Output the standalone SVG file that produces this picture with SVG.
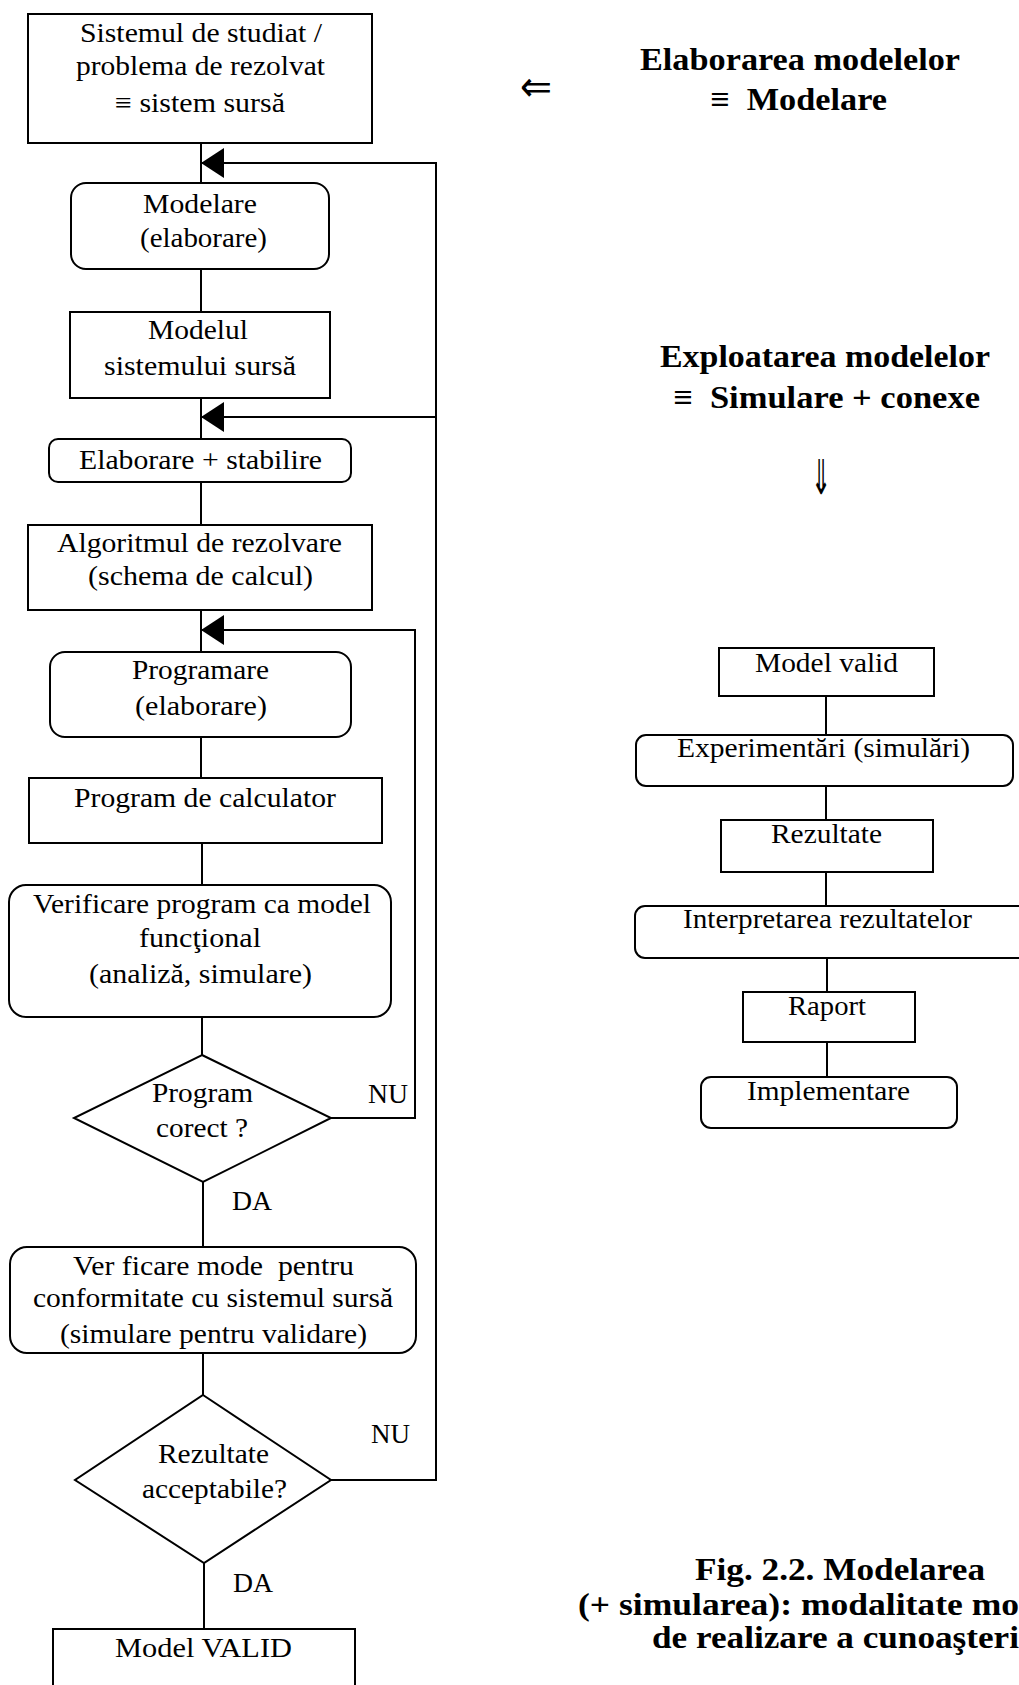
<svg xmlns="http://www.w3.org/2000/svg" width="1019" height="1685" viewBox="0 0 1019 1685">
  <style>
    .box { fill: #fff; stroke: #000; stroke-width: 2; }
    .wire { fill: none; stroke: #000; stroke-width: 2; }
    .t { font-family: "Liberation Serif", "Times New Roman", serif; font-size: 28px; fill: #000; }
    .h { font-family: "Liberation Serif", "Times New Roman", serif; font-size: 32px; font-weight: bold; fill: #000; }
    .sym { font-family: "DejaVu Sans", "Liberation Serif", serif; fill: #000; }
  </style>
  <defs>
    <marker id="head" markerUnits="userSpaceOnUse" markerWidth="23" markerHeight="30" viewBox="0 0 23 30" refX="23" refY="15" orient="auto">
      <path d="M0,0 L23,15 L0,30 z" fill="#000"/>
    </marker>
  </defs>
  <rect width="1019" height="1685" fill="#fff"/>

  <!-- connectors -->
  <g id="connectors">
    <path class="wire" d="M201,143 V183"/>
    <path class="wire" d="M201,269 V312"/>
    <path class="wire" d="M201,398 V439"/>
    <path class="wire" d="M201,482 V525"/>
    <path class="wire" d="M201,610 V652"/>
    <path class="wire" d="M201,737 V778"/>
    <path class="wire" d="M202,843 V885"/>
    <path class="wire" d="M202,1017 V1055"/>
    <path class="wire" d="M203,1182 V1247"/>
    <path class="wire" d="M203,1353 V1395"/>
    <path class="wire" d="M204,1563 V1629"/>
    <!-- return paths -->
    <path class="wire" d="M331,1480 H436 V163 H201" marker-end="url(#head)"/>
    <path class="wire" d="M436,417 H201" marker-end="url(#head)"/>
    <path class="wire" d="M331,1118 H415 V630 H201" marker-end="url(#head)"/>
    <!-- right column -->
    <path class="wire" d="M826,696 V735"/>
    <path class="wire" d="M826,786 V820"/>
    <path class="wire" d="M826,872 V906"/>
    <path class="wire" d="M827,958 V992"/>
    <path class="wire" d="M827,1042 V1077"/>
  </g>

  <!-- left column -->
  <g id="sistem-sursa">
    <rect class="box" x="28" y="14" width="344" height="129"/>
    <text class="t" x="80" y="42" textLength="242" lengthAdjust="spacingAndGlyphs">Sistemul de studiat /</text>
    <text class="t" x="76" y="75" textLength="249" lengthAdjust="spacingAndGlyphs">problema de rezolvat</text>
    <text class="t" x="115" y="112" textLength="170" lengthAdjust="spacingAndGlyphs">≡ sistem sursă</text>
  </g>
  <g id="modelare">
    <rect class="box" x="71" y="183" width="258" height="86" rx="15"/>
    <text class="t" x="143" y="213" textLength="114" lengthAdjust="spacingAndGlyphs">Modelare</text>
    <text class="t" x="140" y="247" textLength="127" lengthAdjust="spacingAndGlyphs">(elaborare)</text>
  </g>
  <g id="modelul">
    <rect class="box" x="70" y="312" width="260" height="86"/>
    <text class="t" x="148" y="339" textLength="100" lengthAdjust="spacingAndGlyphs">Modelul</text>
    <text class="t" x="104" y="375" textLength="192" lengthAdjust="spacingAndGlyphs">sistemului sursă</text>
  </g>
  <g id="elaborare-stabilire">
    <rect class="box" x="49" y="439" width="302" height="43" rx="9"/>
    <text class="t" x="79" y="469" textLength="243" lengthAdjust="spacingAndGlyphs">Elaborare + stabilire</text>
  </g>
  <g id="algoritm">
    <rect class="box" x="28" y="525" width="344" height="85"/>
    <text class="t" x="57" y="552" textLength="285" lengthAdjust="spacingAndGlyphs">Algoritmul de rezolvare</text>
    <text class="t" x="88" y="585" textLength="225" lengthAdjust="spacingAndGlyphs">(schema de calcul)</text>
  </g>
  <g id="programare">
    <rect class="box" x="50" y="652" width="301" height="85" rx="15"/>
    <text class="t" x="132" y="679" textLength="137" lengthAdjust="spacingAndGlyphs">Programare</text>
    <text class="t" x="135" y="715" textLength="132" lengthAdjust="spacingAndGlyphs">(elaborare)</text>
  </g>
  <g id="program-calculator">
    <rect class="box" x="29" y="778" width="353" height="65"/>
    <text class="t" x="74" y="807" textLength="262" lengthAdjust="spacingAndGlyphs">Program de calculator</text>
  </g>
  <g id="verificare-program">
    <rect class="box" x="9" y="885" width="382" height="132" rx="17"/>
    <text class="t" x="33" y="913" textLength="338" lengthAdjust="spacingAndGlyphs">Verificare program ca model</text>
    <text class="t" x="139" y="947" textLength="122" lengthAdjust="spacingAndGlyphs">funcţional</text>
    <text class="t" x="89" y="983" textLength="223" lengthAdjust="spacingAndGlyphs">(analiză, simulare)</text>
  </g>
  <g id="program-corect">
    <polygon class="box" points="202,1055 331,1118 203,1182 74,1118"/>
    <text class="t" x="152" y="1102" textLength="101" lengthAdjust="spacingAndGlyphs">Program</text>
    <text class="t" x="156" y="1137" textLength="92" lengthAdjust="spacingAndGlyphs">corect ?</text>
    <text class="t" x="368" y="1103" textLength="40" lengthAdjust="spacingAndGlyphs">NU</text>
    <text class="t" x="232" y="1210" textLength="40" lengthAdjust="spacingAndGlyphs">DA</text>
  </g>
  <g id="verificare-model">
    <rect class="box" x="10" y="1247" width="406" height="106" rx="17"/>
    <text class="t" x="73" y="1275" textLength="281" lengthAdjust="spacingAndGlyphs" xml:space="preserve">Ver ficare mode  pentru</text>
    <text class="t" x="33" y="1307" textLength="360" lengthAdjust="spacingAndGlyphs">conformitate cu sistemul sursă</text>
    <text class="t" x="60" y="1343" textLength="307" lengthAdjust="spacingAndGlyphs">(simulare pentru validare)</text>
  </g>
  <g id="rezultate-acceptabile">
    <polygon class="box" points="203,1395 331,1480 204,1563 75,1480"/>
    <text class="t" x="158" y="1463" textLength="111" lengthAdjust="spacingAndGlyphs">Rezultate</text>
    <text class="t" x="142" y="1498" textLength="145" lengthAdjust="spacingAndGlyphs">acceptabile?</text>
    <text class="t" x="371" y="1443" textLength="39" lengthAdjust="spacingAndGlyphs">NU</text>
    <text class="t" x="233" y="1592" textLength="40" lengthAdjust="spacingAndGlyphs">DA</text>
  </g>
  <g id="model-valid-final">
    <rect class="box" x="53" y="1629" width="302" height="80"/>
    <text class="t" x="115" y="1657" textLength="177" lengthAdjust="spacingAndGlyphs">Model VALID</text>
  </g>

  <!-- headings -->
  <g id="elaborarea">
    <text class="sym" x="520" y="101" font-size="42" textLength="32" lengthAdjust="spacingAndGlyphs">⇐</text>
    <text class="h" x="640" y="70" textLength="320" lengthAdjust="spacingAndGlyphs">Elaborarea modelelor</text>
    <text class="h" x="710" y="110" textLength="177" lengthAdjust="spacingAndGlyphs" xml:space="preserve">≡  Modelare</text>
  </g>
  <g id="exploatarea">
    <text class="h" x="660" y="367" textLength="330" lengthAdjust="spacingAndGlyphs">Exploatarea modelelor</text>
    <text class="h" x="673" y="408" textLength="307" lengthAdjust="spacingAndGlyphs" xml:space="preserve">≡  Simulare + conexe</text>
    <text class="sym" x="811" y="494" font-size="48" textLength="20" lengthAdjust="spacingAndGlyphs">⇓</text>
  </g>

  <!-- right column -->
  <g id="model-valid">
    <rect class="box" x="719" y="648" width="215" height="48"/>
    <text class="t" x="755" y="672" textLength="143" lengthAdjust="spacingAndGlyphs">Model valid</text>
  </g>
  <g id="experimentari">
    <rect class="box" x="636" y="735" width="377" height="51" rx="10"/>
    <text class="t" x="677" y="757" textLength="293" lengthAdjust="spacingAndGlyphs">Experimentări (simulări)</text>
  </g>
  <g id="rezultate">
    <rect class="box" x="721" y="820" width="212" height="52"/>
    <text class="t" x="771" y="843" textLength="111" lengthAdjust="spacingAndGlyphs">Rezultate</text>
  </g>
  <g id="interpretarea">
    <rect class="box" x="635" y="906" width="395" height="52" rx="10"/>
    <text class="t" x="683" y="928" textLength="289" lengthAdjust="spacingAndGlyphs">Interpretarea rezultatelor</text>
  </g>
  <g id="raport">
    <rect class="box" x="743" y="992" width="172" height="50"/>
    <text class="t" x="788" y="1015" textLength="78" lengthAdjust="spacingAndGlyphs">Raport</text>
  </g>
  <g id="implementare">
    <rect class="box" x="701" y="1077" width="256" height="51" rx="10"/>
    <text class="t" x="747" y="1100" textLength="163" lengthAdjust="spacingAndGlyphs">Implementare</text>
  </g>

  <!-- caption -->
  <g id="caption">
    <text class="h" x="695" y="1580" textLength="290" lengthAdjust="spacingAndGlyphs">Fig. 2.2. Modelarea</text>
    <text class="h" x="578" y="1615" textLength="441" lengthAdjust="spacingAndGlyphs">(+ simularea): modalitate mo</text>
    <text class="h" x="652" y="1648" textLength="367" lengthAdjust="spacingAndGlyphs">de realizare a cunoaşteri</text>
  </g>
</svg>
